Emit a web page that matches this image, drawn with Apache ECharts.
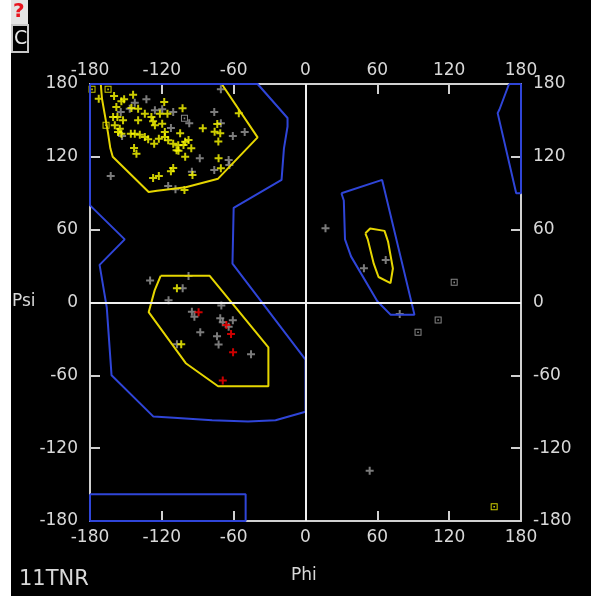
<!DOCTYPE html>
<html>
<head>
<meta charset="utf-8">
<script src="https://cdn.jsdelivr.net/npm/echarts@6/dist/echarts.min.js"></script>
<style>
  body { margin: 0; background: #fff; }
  #chart { width: 591px; height: 596px; }
</style>
</head>
<body>
<div id="chart"></div>
<script>
// tick labels
var phiTicks = [-180, -120, -60, 0, 60, 120, 180];

// allowed regions (blue) and core regions (yellow), [phi, psi]
var blueRegion1 = [[-180,180],[-40,180],[-15,152],[-15,145],[-18,127],[-20,101],[-60,78],[-61,32],[0,-47],[0,-90],[-25,-97],[-48,-98],[-78,-97],[-110,-95],[-127,-94],[-162,-60],[-166,-4],[-172,31],[-151,52],[-180,80],[-180,180]];
var blueRegion2 = [[-180,-158],[-50,-158],[-50,-180],[-180,-180],[-180,-158]];
var blueRegion3 = [[170,180],[162,159],[160.5,156],[176,90],[180,90],[180,180],[170,180]];
var blueRegion4 = [[30,90],[64,101],[91,-10],[71,-10],[60,1],[38,38],[33,52],[32,84],[30,90]];
var yellowRegion1 = [[-171,180],[-170,168],[-165,140],[-163,127],[-161,120],[-131,91],[-124,92],[-100,95],[-73,102],[-40,136],[-70,180],[-171,180]];
var yellowRegion2 = [[-121,22],[-80,22],[-31,-37],[-31,-69],[-73,-69],[-100,-50],[-131,-8],[-126,10],[-121,22]];
var yellowRegion3 = [[50,57],[54,61],[66,59],[69,50],[73,28],[71,16],[61,21],[57,32],[52,52],[50,57]];

// residues
var yellowCross = [
  [-172.7,167.9],[-159.9,170.1],[-144.0,171.2],[-153.8,165.7],[-151.5,167.4],[-158.0,161.1],[-145.4,160.2],
  [-139.8,159.7],[-134.2,155.5],[-118.0,165.2],[-121.6,155.5],[-115.3,155.5],[-160.7,152.8],[-157.1,152.8],
  [-152.4,150.1],[-139.8,150.1],[-128.7,152.8],[-127.3,149.3],[-125.8,146.0],[-119.7,147.3],[-159.3,146.0],
  [-155.1,143.2],[-156.6,140.5],[-153.8,139.1],[-145.9,139.1],[-142.6,139.1],[-138.4,138.2],[-134.2,136.3],
  [-131.4,134.4],[-126.4,130.8],[-122.5,134.9],[-117.5,140.5],[-117.5,136.3],[-114.7,133.6],[-110.5,130.8],
  [-107.7,125.4],[-106.3,129.5],[-143.2,127.3],[-141.2,122.6],[-112.4,108.1],[-110.5,110.8],[-127.3,102.6],
  [-122.5,104.2],[-102.7,160.0],[-85.8,143.5],[-75.9,140.7],[-71.2,139.4],[-73.7,147.0],[-72.8,132.6],
  [-55.7,155.9],[-100.5,132.5],[-97.7,133.9],[-95.4,127.0],[-101.9,129.7],[-106.1,125.1],[-100.5,120.1],
  [-72.6,118.8],[-70.7,110.6],[-94.4,105.0],[-101.1,92.7],[-104.7,139.4],
  [-107.4,11.7],[-103.8,-34.4]
];
var grayCross = [
  [-132.9,167.4],[-142.6,164.6],[-146.8,159.7],[-154.3,156.9],[-125.8,158.3],[-119.7,159.2],[-110.5,156.9],
  [-112.4,143.8],[-153.2,137.2],[-162.7,104.2],[-114.7,96.0],[-108.6,93.3],[-70.7,175.6],[-76.2,156.9],
  [-70.7,147.6],[-60.7,137.2],[-50.8,140.5],[-64.2,117.4],[-76.2,109.2],[-63.6,113.3],[-88.3,118.8],
  [-94.9,107.8],[-97.1,147.6],
  [-129.8,18.1],[-97.7,21.8],[-102.6,11.7],[-114.4,1.8],[-70.3,-2.5],[-94.9,-7.6],[-92.8,-11.7],
  [-71.2,-13.0],[-69.1,-16.2],[-60.7,-14.7],[-64.2,-19.9],[-87.9,-24.5],[-73.9,-27.8],[-72.6,-34.6],
  [-107.4,-34.4],[-45.5,-42.7],
  [16.7,61.1],[48.8,28.2],[67.0,35.0],[78.7,-9.5],[53.6,-138.6]
];
var redCross = [[-89.3,-8.1],[-66.1,-18.5],[-62.2,-25.9],[-60.5,-41.0],[-69.1,-64.3]];
var graySquare = [[-101.1,151.7],[124.2,16.6],[110.8,-14.4],[94.0,-24.5]];
var yellowSquare = [[-178.3,175.6],[-164.9,175.6],[-166.6,146.0],[157.6,-168.2]];

var chart = echarts.init(document.getElementById('chart'));

var txt = '#d8d8d8';
var plus = 'path://M3,0H5V3H8V5H5V8H3V5H0V3H3Z';
var box = 'path://M0,0H7V7H0Z M1,1V6H6V1Z M2.7,2.7H4.3V4.3H2.7Z';

function axisX(pos, margin) {
  return {
    type: 'value', position: pos, min: -180, max: 180, interval: 60,
    axisLine: { show: true, onZero: false, lineStyle: { color: '#d0d0d0', width: 2 } },
    axisTick: { show: true, inside: true, length: 10, lineStyle: { color: '#d0d0d0', width: 2 } },
    splitLine: { show: false },
    axisLabel: {
      color: txt, fontFamily: 'DejaVu Sans', fontSize: 17, margin: margin,
      showMinLabel: true, showMaxLabel: true,
      formatter: function(v) { return phiTicks.indexOf(v) >= 0 ? String(v) : ''; }
    }
  };
}
function axisY(pos) {
  return axisX(pos, 12);
}

function contour(data, color) {
  return {
    type: 'line', data: data, symbol: 'none', silent: true,
    lineStyle: { color: color, width: 2 }
  };
}
function points(data, symbol, color, size) {
  return {
    type: 'scatter', data: data, symbol: symbol, symbolSize: size, silent: true,
    itemStyle: { color: color }
  };
}

var yel1 = contour(yellowRegion1, '#e6d600');
yel1.markLine = {
  silent: true, symbol: ['none', 'none'], label: { show: false },
  lineStyle: { color: '#f0f0f0', width: 2, type: 'solid' },
  data: [{ xAxis: 0 }, { yAxis: 0 }]
};

var option = {
  backgroundColor: '#000',
  animation: false,
  grid: { left: 90, top: 84, width: 431, height: 437 },
  xAxis: [axisX('bottom', 8), axisX('top', 5)],
  yAxis: [axisY('left'), axisY('right')],
  graphic: [
    { type: 'rect', left: 0, top: 0, shape: { width: 11, height: 596 }, style: { fill: '#fff' } },
    { type: 'rect', left: 11, top: 0, shape: { width: 17, height: 24 }, style: { fill: '#e4e4e4' } },
    { type: 'text', left: 13, top: 2, style: { text: '?', fill: '#e8141e', font: 'bold 20px "DejaVu Sans"' } },
    { type: 'rect', left: 11, top: 24, shape: { x: 1, y: 1, width: 16, height: 27 }, style: { fill: '#000', stroke: '#c8c8c8', lineWidth: 2 } },
    { type: 'text', left: 14, top: 30, style: { text: 'C', fill: '#e8e8e8', font: '19px "DejaVu Sans"' } },
    { type: 'text', left: 12, top: 293, style: { text: 'Psi', fill: txt, font: '17px "DejaVu Sans"' } },
    { type: 'text', left: 291, top: 567, style: { text: 'Phi', fill: txt, font: '17px "DejaVu Sans"' } },
    { type: 'text', left: 19, top: 569, style: { text: '11TNR', fill: txt, font: '21px "DejaVu Sans"' } }
  ],
  series: [
    yel1,
    contour(yellowRegion2, '#e6d600'),
    contour(yellowRegion3, '#e6d600'),
    contour(blueRegion1, '#2f45d8'),
    contour(blueRegion2, '#2f45d8'),
    contour(blueRegion3, '#2f45d8'),
    contour(blueRegion4, '#2f45d8'),
    points(grayCross, plus, '#9a9a9a', 8),
    points(yellowCross, plus, '#ffff00', 8),
    points(redCross, plus, '#ff0000', 8),
    points(graySquare, box, '#a8a8a8', 7),
    points(yellowSquare, box, '#ffff00', 7)
  ]
};
chart.setOption(option);
</script>
</body>
</html>
